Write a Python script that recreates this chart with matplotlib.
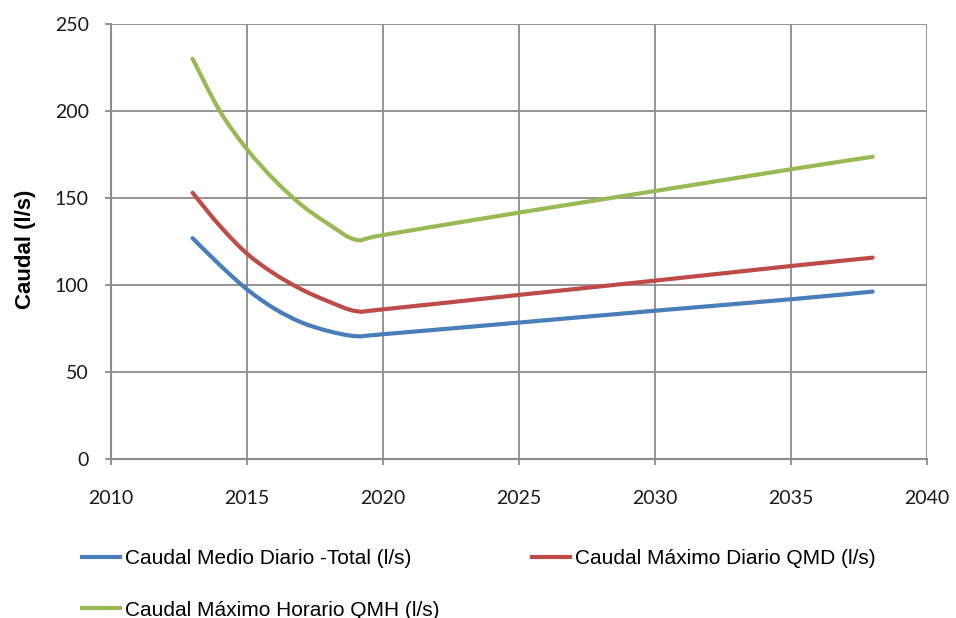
import numpy as np
import matplotlib.pyplot as plt
from matplotlib.path import Path
from matplotlib.patches import PathPatch
from matplotlib.lines import Line2D

years = [2013, 2014, 2015, 2016, 2017, 2018, 2019, 2020, 2025, 2030, 2035, 2038]
q_medio = [126.9, 111.5, 97.5, 86.5, 78.5, 73.5, 70.6, 71.7, 78.4, 85.2, 91.8, 96.2]
q_max_diario = [153.0, 134.0, 118.0, 106.5, 97.5, 90.5, 85.0, 86.0, 94.3, 102.5, 110.9, 115.7]
q_max_horario = [230.0, 200.0, 178.0, 160.5, 146.0, 135.0, 126.0, 128.7, 141.6, 154.0, 166.5, 173.7]

labels = ['Caudal Medio Diario -Total (l/s)',
          'Caudal Máximo Diario QMD (l/s)',
          'Caudal Máximo Horario QMH (l/s)']
colors = ['#4A7EBB', '#BE4B48', '#98B954']


def smooth_path(x, y):
    # smoothed line (Catmull-Rom style bezier through every point)
    pts = np.column_stack([x, y]).astype(float)
    verts = [pts[0]]
    codes = [Path.MOVETO]
    n = len(pts)
    for i in range(n - 1):
        p0 = pts[i - 1] if i > 0 else pts[i]
        p1, p2 = pts[i], pts[i + 1]
        p3 = pts[i + 2] if i + 2 < n else pts[i + 1]
        verts += [p1 + (p2 - p0) / 6, p2 - (p3 - p1) / 6, p2]
        codes += [Path.CURVE4] * 3
    return Path(verts, codes)


fig = plt.figure(figsize=(9.56, 6.18), dpi=100)
ax = fig.add_axes([0.1161, 0.2573, 0.8536, 0.7039])

handles = []
for vals, lab, col in zip([q_medio, q_max_diario, q_max_horario], labels, colors):
    ax.add_patch(PathPatch(smooth_path(years, vals), fill=False, edgecolor=col,
                           linewidth=3, capstyle='round', joinstyle='round'))
    handles.append(Line2D([], [], color=col, linewidth=3, label=lab))

ax.set_xlim(2010, 2040)
ax.set_ylim(0, 250)
ax.set_xticks(range(2010, 2041, 5))
ax.set_yticks(range(0, 251, 50))
ax.grid(True, color='#8c8c8c', linewidth=1.3)
ax.set_axisbelow(True)
for side in ['top', 'right']:
    ax.spines[side].set_visible(False)
for side in ['left', 'bottom']:
    ax.spines[side].set_color('#8c8c8c')
    ax.spines[side].set_linewidth(1.5)
ax.tick_params(colors='#8c8c8c', labelcolor='#1a1a1a', length=4, width=1.3,
               labelsize=14)
ax.tick_params(axis='x', pad=18.5)
ax.tick_params(axis='y', pad=12)
for t in ax.get_xticklabels() + ax.get_yticklabels():
    t.set_family('Lato')

ax.set_ylabel('Caudal (l/s)', fontsize=16, fontweight='bold',
              family='Liberation Sans')
ax.yaxis.set_label_coords(-0.092, 0.482)

# row-wise order: blue, red on the first row, green below
fig.legend(handles=[handles[0], handles[2], handles[1]],
           loc='upper left', bbox_to_anchor=(0.0753, 0.1277), ncol=2,
           frameon=False, borderpad=0, handlelength=1.8, handletextpad=0.25,
           columnspacing=4.45, labelspacing=1.55,
           prop={'family': 'Liberation Sans', 'size': 15})

fig.savefig('out.png', dpi=100)
